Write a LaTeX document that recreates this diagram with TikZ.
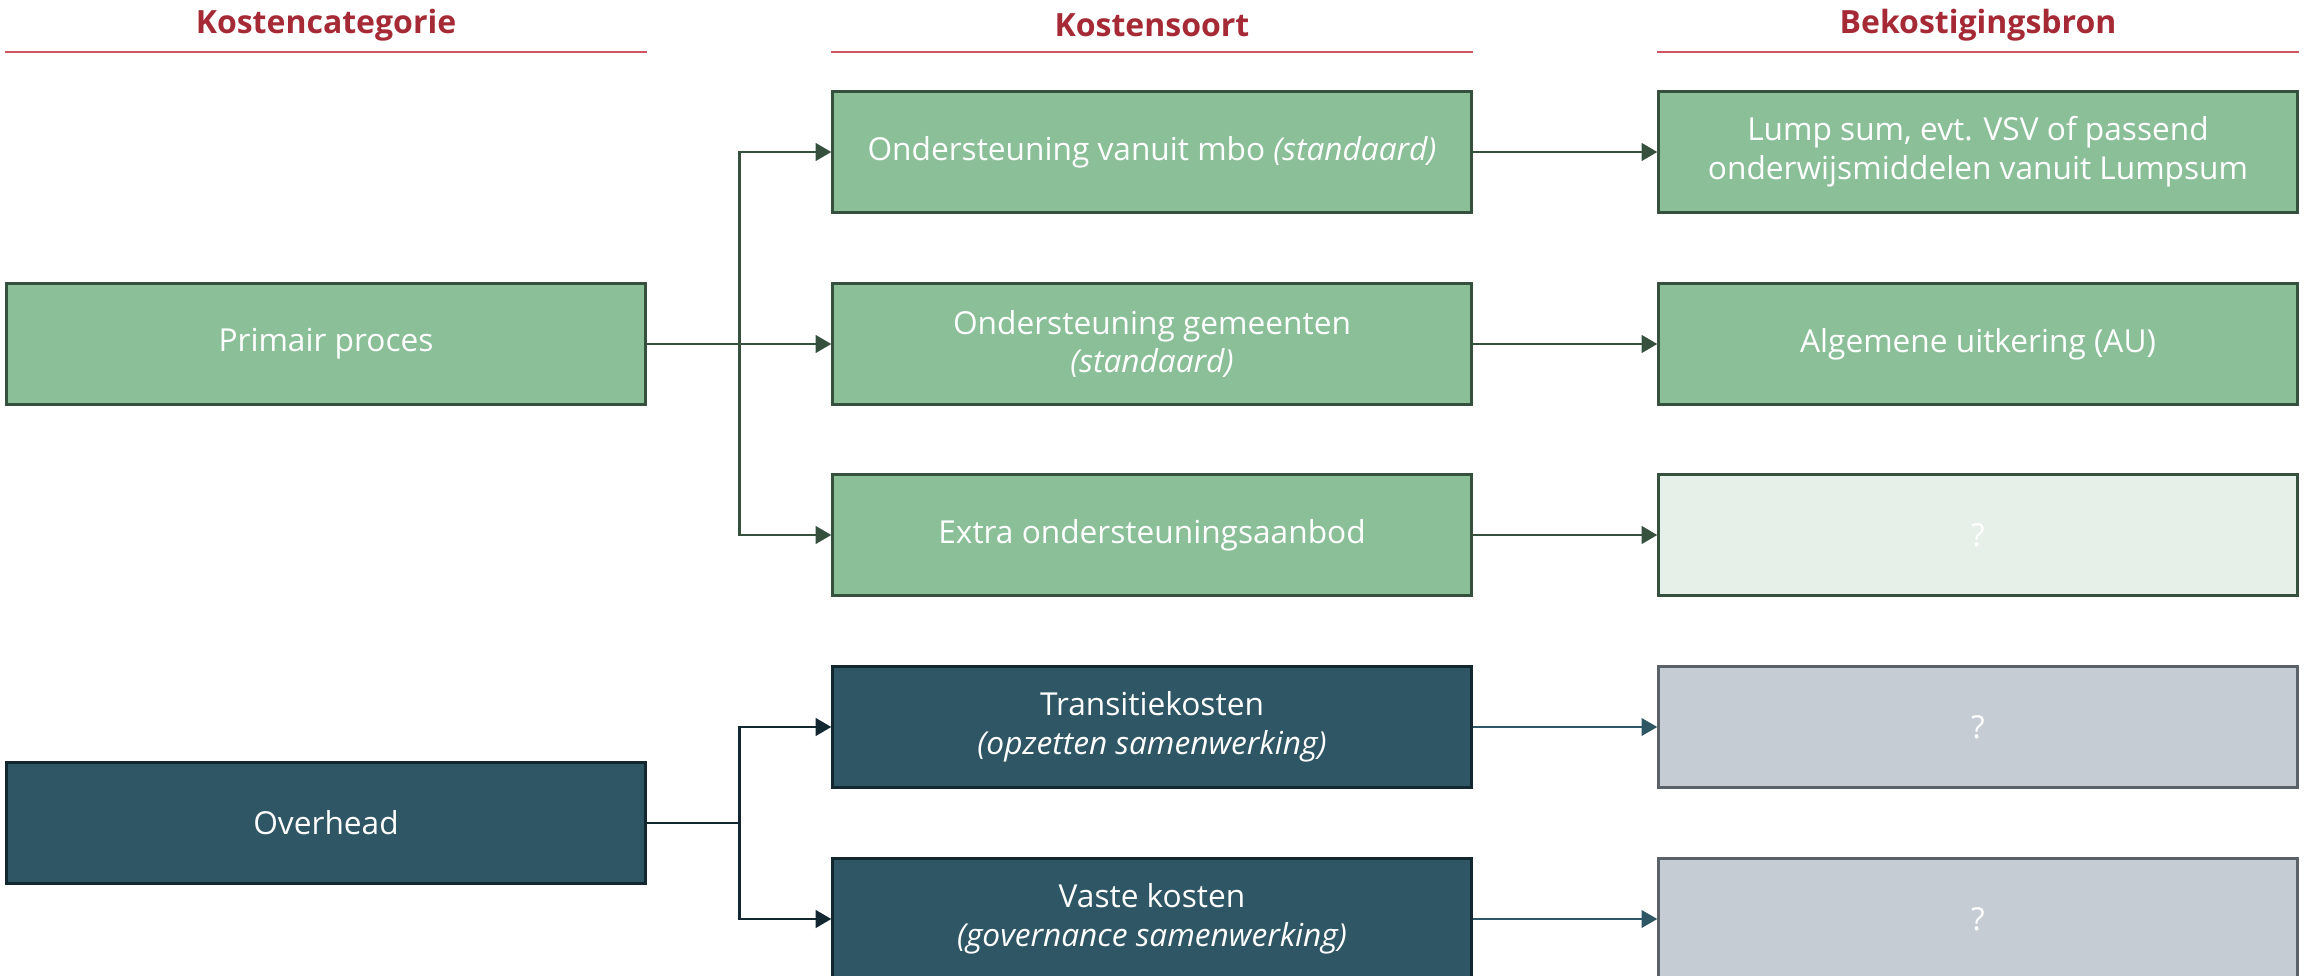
\documentclass[tikz,border=0pt]{standalone}
\usepackage{fontspec}
\setmainfont{Open Sans}
\usepackage{tikz}
\usetikzlibrary{arrows.meta}
\definecolor{hdrred}{HTML}{A52A35}
\definecolor{hdrline}{HTML}{CF5560}
\definecolor{boxgreen}{HTML}{8ABF98}
\definecolor{edgegreen}{HTML}{35503D}
\definecolor{palegreen}{HTML}{E6F0E8}
\definecolor{boxteal}{HTML}{2F5664}
\definecolor{edgeteal}{HTML}{132730}
\definecolor{boxgrey}{HTML}{C5CCD4}
\definecolor{edgegrey}{HTML}{5B6169}

\begin{document}
\begin{tikzpicture}[x=0.01cm,y=-0.01cm,
  cbox/.style={draw,line width=0.85pt,minimum width=6.38cm,minimum height=1.2cm,
    text=white,align=center,inner sep=2pt,font=\fontsize{9}{11}\selectfont},
  greenbox/.style={cbox,fill=boxgreen,draw=edgegreen},
  palebox/.style={cbox,fill=palegreen,draw=edgegreen},
  tealbox/.style={cbox,fill=boxteal,draw=edgeteal},
  greybox/.style={cbox,fill=boxgrey,draw=edgegrey},
  hdr/.style={text=hdrred,font=\fontsize{9.1}{11}\selectfont\bfseries},
  hdrrule/.style={draw=hdrline,line width=0.5pt},
  glink/.style={draw=edgegreen,line width=0.85pt},
  garrow/.style={glink,-{Triangle[length=4.5pt,width=5pt]}},
  tlink/.style={draw=edgeteal,line width=0.85pt},
  tarrow/.style={tlink,-{Triangle[length=4.5pt,width=5pt]}},
  sarrow/.style={draw=boxteal,line width=0.6pt,-{Triangle[length=4.5pt,width=5pt]}}]
\useasboundingbox (0,0) rectangle (2305,976);

% headers
\node[hdr] (hcat) at (326,25) {Kostencategorie};
\node[hdr] (hsoort) at (1152,25) {Kostensoort};
\node[hdr] (hbron) at (1978,25) {Bekostigingsbron};

% boxes
\node[greenbox] (prim) at (326,344) {Primair proces};
\node[tealbox] (over) at (326,823) {Overhead};

\node[greenbox] (mbo) at (1152,152) {Ondersteuning vanuit mbo \textit{(standaard)}};
\node[greenbox] (gem) at (1152,344) {Ondersteuning gemeenten\\\textit{(standaard)}};
\node[greenbox] (extra) at (1152,535) {Extra ondersteuningsaanbod};
\node[tealbox] (trans) at (1152,727) {Transitiekosten\\\textit{(opzetten samenwerking)}};
\node[tealbox] (vast) at (1152,919) {Vaste kosten\\\textit{(governance samenwerking)}};

\node[greenbox] (lump) at (1978,152) {Lump sum, evt. VSV of passend\\onderwijsmiddelen vanuit Lumpsum};
\node[greenbox] (au) at (1978,344) {Algemene uitkering (AU)};
\node[palebox] (bron3) at (1978,535) {?};
\node[greybox] (bron4) at (1978,727) {?};
\node[greybox] (bron5) at (1978,919) {?};

\draw[hdrrule] (prim.west |- 0,52) -- (prim.east |- 0,52);
\draw[hdrrule] (mbo.west |- 0,52) -- (mbo.east |- 0,52);
\draw[hdrrule] (lump.west |- 0,52) -- (lump.east |- 0,52);

% connectors
\coordinate (pbr) at (739,344);
\coordinate (obr) at (739,823);
\draw[glink] (prim.east) -- (pbr);
\draw[garrow] (pbr) |- (mbo.west);
\draw[garrow] (pbr) -- (gem.west);
\draw[garrow] (pbr) |- (extra.west);
\draw[tlink] (over.east) -- (obr);
\draw[tarrow] (obr) |- (trans.west);
\draw[tarrow] (obr) |- (vast.west);

\draw[garrow] (mbo.east) -- (lump.west);
\draw[garrow] (gem.east) -- (au.west);
\draw[garrow] (extra.east) -- (bron3.west);
\draw[sarrow] (trans.east) -- (bron4.west);
\draw[sarrow] (vast.east) -- (bron5.west);
\end{tikzpicture}
\end{document}
